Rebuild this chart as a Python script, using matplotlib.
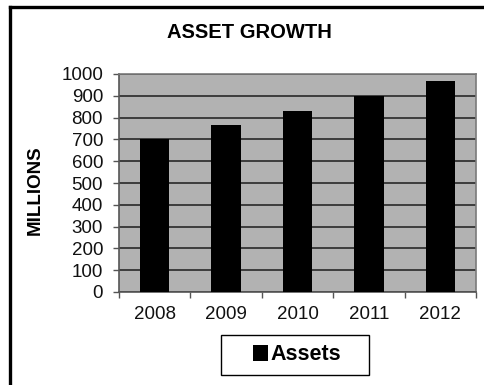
import matplotlib.pyplot as plt
from matplotlib.lines import Line2D
from matplotlib.patches import Rectangle
from matplotlib.ticker import FixedLocator, NullFormatter
import numpy as np

plt.rcParams["font.family"] = ["Liberation Sans", "DejaVu Sans"]

years = ["2008", "2009", "2010", "2011", "2012"]
assets = [700, 767, 832, 900, 967]
y_ticks = [0, 100, 200, 300, 400, 500, 600, 700, 800, 900, 1000]

W, H = 484, 385
fig = plt.figure(figsize=(W / 100, H / 100), dpi=100)
fig.patch.set_facecolor("white")

# outer chart frame: only the left and top edges fall inside the image
fx, fy = 9.5 / W, 1 - 6.5 / H
fig.add_artist(Line2D([fx, fx], [-0.01, fy], transform=fig.transFigure,
                      color="black", linewidth=2.4, solid_capstyle="projecting"))
fig.add_artist(Line2D([fx, 1.01], [fy, fy], transform=fig.transFigure,
                      color="black", linewidth=2.4, solid_capstyle="projecting"))

ax = fig.add_axes([119 / W, 93 / H, 357 / W, 218 / H])
ax.set_facecolor("#b2b2b2")

x = np.arange(len(years))
bars = ax.bar(x, assets, width=0.41, color="black", zorder=3, label="Assets")

ax.set_xlim(-0.5, len(years) - 0.5)
ax.set_ylim(0, 1000)
ax.set_yticks(y_ticks)
ax.set_xticks(x)
ax.set_xticklabels(years)
ax.xaxis.set_minor_locator(FixedLocator(np.arange(-0.5, len(years), 1.0)))
ax.xaxis.set_minor_formatter(NullFormatter())

ax.grid(axis="y", color="#333333", linewidth=1.3, zorder=1)
ax.set_axisbelow(True)

for s in ["top", "right"]:
    ax.spines[s].set_color("#7a7a7a")
    ax.spines[s].set_linewidth(1.2)
for s in ["left", "bottom"]:
    ax.spines[s].set_color("#555555")
    ax.spines[s].set_linewidth(1.2)

ax.tick_params(axis="y", direction="out", length=4.5, width=1, color="#555555",
               labelsize=13.5, pad=7, labelcolor="#111111")
ax.tick_params(axis="x", which="major", length=0, labelsize=13.5, pad=10,
               labelcolor="#111111")
ax.tick_params(axis="x", which="minor", direction="out", length=4.5, width=1,
               color="#555555")

fig.text(249 / W, 1 - 33 / H, "ASSET GROWTH", ha="center", va="center",
         fontsize=14.5, fontweight="bold")
fig.text(35 / W, 1 - 190 / H, "MILLIONS", ha="center", va="center",
         rotation=90, fontsize=13.5, fontweight="bold")

# legend box drawn separately so it can be wider than the entry
fig.add_artist(Rectangle((221 / W, 1 - 375 / H), 148 / W, 40 / H,
                         transform=fig.transFigure, fill=False,
                         edgecolor="black", linewidth=1.0))
leg = fig.legend(handles=[bars], loc="center",
                 bbox_to_anchor=(297 / W, 1 - 355 / H),
                 prop={"weight": "bold", "size": 15.5},
                 handlelength=0.7, handleheight=0.7, handletextpad=0.1,
                 borderpad=0.2, borderaxespad=0, frameon=False)

fig.savefig("out.png", dpi=100)
